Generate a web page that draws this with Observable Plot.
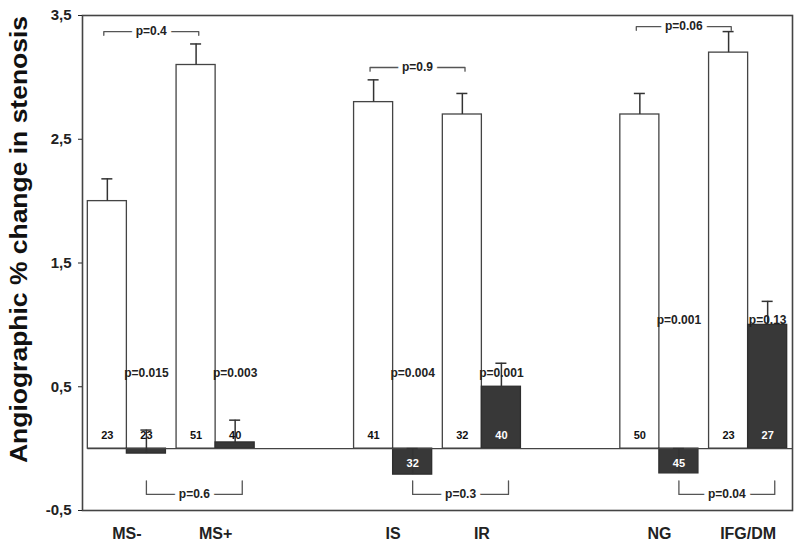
<!DOCTYPE html>
<html>
<head>
<meta charset="utf-8">
<script src="https://cdn.jsdelivr.net/npm/d3@7"></script>
<script src="https://cdn.jsdelivr.net/npm/@observablehq/plot@0.6"></script>
<style>
  html, body { margin: 0; padding: 0; background: #fff; }
  #chart { width: 800px; height: 545px; }
</style>
</head>
<body>
<div id="chart"></div>
<script>
// ---- data ----
const categories = ["MS-", "MS+", "IS", "IR", "NG", "IFG/DM"];
const whiteMean = [2.0, 3.1, 2.8, 2.7, 2.7, 3.2];
const whiteSE   = [0.18, 0.17, 0.18, 0.17, 0.17, 0.17];
const darkMean  = [-0.04, 0.05, -0.21, 0.5, -0.2, 1.0];
const darkSE    = [0.19, 0.18, 0.21, 0.19, 0.2, 0.19];
const whiteN = [23, 51, 41, 32, 50, 23];
const darkN  = [23, 40, 32, 40, 45, 27];
const pairP = ["p=0.015", "p=0.003", "p=0.004", "p=0.001", "p=0.001", "p=0.13"];
const whiteCompareP = ["p=0.4", "p=0.9", "p=0.06"];
const darkCompareP  = ["p=0.6", "p=0.3", "p=0.04"];
const yTicks = [-0.5, 0.5, 1.5, 2.5, 3.5];
const yTitle = "Angiographic % change in stenosis";

// ---- layout helpers ----
const slotOf = i => i + Math.floor(i / 2);   // two categories per block, one empty slot between blocks
const slots = categories.map((c, i) => slotOf(i));
const W = 0.44;    // bar width in slot units
const CAP = 0.062; // error cap half width

const bars = categories.flatMap((c, i) => {
  const k = slotOf(i);
  return [
    {cat: c, k, kind: "white", x1: k - W, x2: k, xc: k - W / 2, v: whiteMean[i], e: whiteMean[i] + whiteSE[i], n: whiteN[i]},
    {cat: c, k, kind: "dark",  x1: k, x2: k + W, xc: k + W / 2, v: darkMean[i],  e: darkMean[i] + darkSE[i],  n: darkN[i]}
  ];
});
const whiteBars = bars.filter(d => d.kind === "white");
const darkBars = bars.filter(d => d.kind === "dark");

const pairLabels = categories.map((c, i) => ({x: slotOf(i) + W / 2, y: i >= 4 ? 1.04 : 0.61, t: pairP[i]}));

// brackets
const topPts = [], botPts = [], topLab = [], botLab = [];
for (let j = 0; j < 3; j++) {
  const a = 2 * j, b = 2 * j + 1;
  const ka = slotOf(a), kb = slotOf(b);
  const yt = Math.min(Math.max(whiteMean[a] + whiteSE[a], whiteMean[b] + whiteSE[b]) + 0.1, 3.41);
  const xa = ka - W / 2 - 0.04, xb = kb - W / 2 + 0.03;
  topPts.push({g: j, x: xa, y: yt - 0.03}, {g: j, x: xa, y: yt}, {g: j, x: xb, y: yt}, {g: j, x: xb, y: yt - 0.03});
  topLab.push({x: (xa + xb) / 2, y: yt, t: whiteCompareP[j]});
  const yb = -0.37;
  const xc = ka + W / 2, xd = kb + W / 2 + 0.08;
  botPts.push({g: j, x: xc, y: yb + 0.11}, {g: j, x: xc, y: yb}, {g: j, x: xd, y: yb}, {g: j, x: xd, y: yb + 0.11});
  botLab.push({x: (xc + xd) / 2, y: yb, t: darkCompareP[j]});
}

const FONT = "'Liberation Sans', Arial, Helvetica, sans-serif";
const INK = "#222";
const LINE = "#444";

const chart = Plot.plot({
  width: 800,
  height: 545,
  marginLeft: 82,
  marginRight: 8,
  marginTop: 15,
  marginBottom: 35,
  style: {fontFamily: FONT, background: "#fff", color: INK},
  x: {domain: [-0.5, 7.5]},
  y: {domain: [-0.5, 3.5]},
  marks: [
    // white bars
    Plot.rectY(whiteBars, {x1: "x1", x2: "x2", y1: 0, y2: "v", fill: "#fff", stroke: LINE, strokeWidth: 1.3}),
    // dark bars
    Plot.rectY(darkBars, {x1: "x1", x2: "x2", y1: 0, y2: "v", fill: "#383838", stroke: "#2e2e2e", strokeWidth: 1.3}),
    // zero baseline
    Plot.ruleY([0], {x1: -W, x2: 7.5, stroke: LINE, strokeWidth: 1.3}),
    // error bars
    Plot.ruleX(bars, {x: "xc", y1: "v", y2: "e", stroke: "#333", strokeWidth: 1.5}),
    Plot.ruleY(bars, {y: "e", x1: d => d.xc - CAP, x2: d => d.xc + CAP, stroke: "#333", strokeWidth: 1.5}),
    // n labels
    Plot.text(bars, {
      x: "xc", y: d => (d.v < -0.1 ? -0.12 : 0.11), text: d => String(d.n),
      fill: d => (d.kind === "dark" && Math.abs(d.v) >= 0.15 ? "#fff" : "#111"),
      fontSize: 11, fontWeight: "bold"
    }),
    // within-pair p values
    Plot.text(pairLabels, {x: "x", y: "y", text: "t", fontSize: 12, fontWeight: "bold", fill: INK}),
    // brackets
    Plot.line(topPts, {x: "x", y: "y", z: "g", stroke: "#555", strokeWidth: 1.3, curve: "linear"}),
    Plot.line(botPts, {x: "x", y: "y", z: "g", stroke: "#555", strokeWidth: 1.3, curve: "linear"}),
    Plot.text(topLab, {x: "x", y: "y", text: "t", fontSize: 12, fontWeight: "bold", fill: INK, stroke: "#fff", strokeWidth: 9, paintOrder: "stroke"}),
    Plot.text(botLab, {x: "x", y: "y", text: "t", fontSize: 12, fontWeight: "bold", fill: INK, stroke: "#fff", strokeWidth: 9, paintOrder: "stroke"}),
    // frame
    Plot.frame({stroke: LINE, strokeWidth: 1.6}),
    // axes
    Plot.axisY({ticks: yTicks, tickFormat: d => String(d).replace(".", ","), tickSize: 4, tickPadding: 7,
      fontSize: 15, fontWeight: "bold", color: INK, label: null}),
    Plot.axisX({ticks: slots, tickFormat: d => categories[slots.indexOf(d)], tickSize: 0, tickPadding: 17,
      fontSize: 16, fontWeight: "bold", color: INK, label: null}),
    // y title (anchored at its start, bottom of the text)
    Plot.text([yTitle], {frameAnchor: "left", rotate: -90, textAnchor: "start", dx: -63, dy: 200, fontSize: 24, fontWeight: "bold", fill: "#111"})
  ]
});

document.getElementById("chart").appendChild(chart);
const t = [...chart.querySelectorAll("text")].find(el => el.textContent === yTitle);
if (t) { t.setAttribute("textLength", 447); t.setAttribute("lengthAdjust", "spacingAndGlyphs"); }
</script>
</body>
</html>
